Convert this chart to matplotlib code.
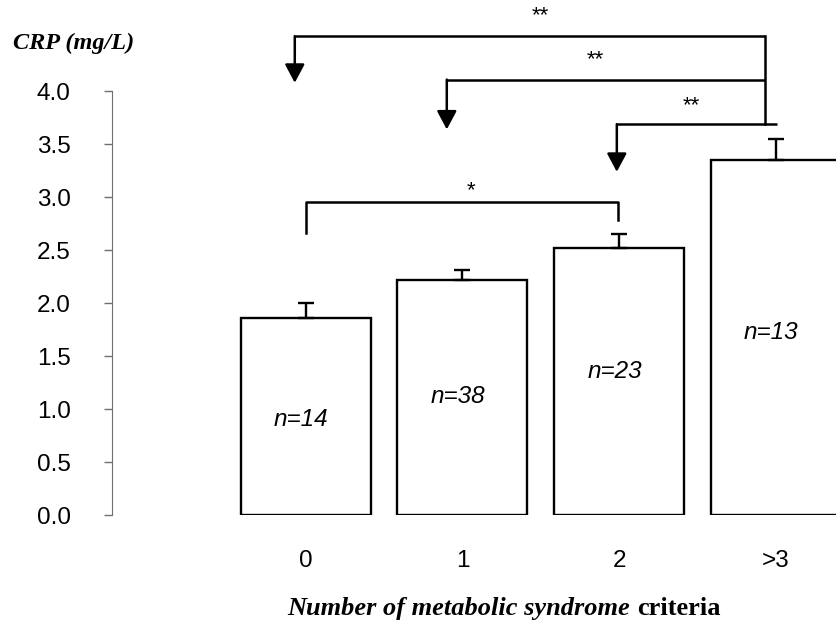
import numpy as np
import matplotlib.pyplot as plt

# CRP por número de criterios de síndrome metabólico
categorias = ["0", "1", "2", ">3"]
crp_media = [1.86, 2.22, 2.52, 3.35]
crp_error = [0.14, 0.09, 0.13, 0.20]
n_grupo = [14, 38, 23, 13]

# altura (en mg/L) donde va el texto n= dentro de cada barra
n_label_y = [0.90, 1.12, 1.36, 1.72]

x = np.arange(len(categorias))

fig = plt.figure(figsize=(8.37, 6.23), dpi=100)
ax = fig.add_axes([0.1335, 0.1729, 0.8665, 0.8271])

ax.bar(x, crp_media, width=0.83, color="white", edgecolor="black", linewidth=1.7)
ax.errorbar(x, crp_media, yerr=[np.zeros(len(x)), crp_error], fmt="none",
            ecolor="black", elinewidth=1.7, capsize=6, capthick=1.7)

for xi, n, yl in zip(x, n_grupo, n_label_y):
    ax.text(xi - 0.03, yl, f"n={n}", ha="center", va="center",
            fontsize=17.5, style="italic", family="Liberation Sans")

ax.set_xlim(-1.238, 3.39)
ax.set_ylim(0, 4.861)
ax.set_yticks(np.arange(0, 4.01, 0.5))
ax.set_yticklabels([f"{v:.1f}" for v in np.arange(0, 4.01, 0.5)])
ax.set_xticks(x)
ax.set_xticklabels(categorias)

for s in ["top", "right", "bottom"]:
    ax.spines[s].set_visible(False)
ax.spines["left"].set_bounds(0, 4.0)
ax.spines["left"].set_color("#707070")
ax.tick_params(axis="y", length=5.5, width=1, color="#707070", pad=24,
               labelsize=17.5)
ax.tick_params(axis="x", length=0, pad=25, labelsize=17.5)
for lbl in ax.get_xticklabels() + ax.get_yticklabels():
    lbl.set_family("Liberation Sans")

# corchetes de significancia
lw = 1.8
arrow = dict(arrowstyle="-|>,head_length=0.75,head_width=0.4",
             mutation_scale=15, lw=lw, color="black", shrinkA=0, shrinkB=0)


def flecha(x_ini, x_fin, y, y_punta, estrellas, x_txt, y_txt):
    ax.plot([x_ini, x_fin], [y, y], color="black", lw=lw,
            solid_capstyle="butt", clip_on=False)
    ax.annotate("", xy=(x_ini, y_punta), xytext=(x_ini, y),
                arrowprops=arrow, annotation_clip=False)
    ax.text(x_txt, y_txt, estrellas, ha="center", va="center",
            fontsize=16, family="Liberation Sans", clip_on=False)


x_der = x[3] - 0.07
flecha(x[0] - 0.07, x_der, 4.52, 4.08, "**", 1.50, 4.71)
flecha(x[1] - 0.10, x_der, 4.11, 3.64, "**", 1.85, 4.30)
flecha(x[2] - 0.015, x[3] + 0.006, 3.69, 3.24, "**", 2.46, 3.86)
ax.plot([x_der, x_der], [4.52, 3.69], color="black", lw=lw, clip_on=False)

# 0 vs 2
ax.plot([x[0], x[0], x[2] - 0.01, x[2] - 0.01], [2.66, 2.96, 2.96, 2.79],
        color="black", lw=lw, clip_on=False)
ax.text(1.055, 3.06, "*", ha="center", va="center", fontsize=16,
        family="Liberation Sans")

fig.text(13 / 837, 1 - 43 / 623, "CRP (mg/L)", ha="left", va="center",
         fontsize=17.5, weight="bold", style="italic", family="Liberation Serif")
fig.text(630 / 837, 1 - 615 / 623, "Number of metabolic syndrome", ha="right",
         va="baseline", fontsize=19, weight="bold", style="italic",
         family="Liberation Serif")
fig.text(637 / 837, 1 - 615 / 623, "criteria", ha="left", va="baseline",
         fontsize=19, weight="bold", family="Liberation Serif")

fig.savefig("out.png", dpi=100)
